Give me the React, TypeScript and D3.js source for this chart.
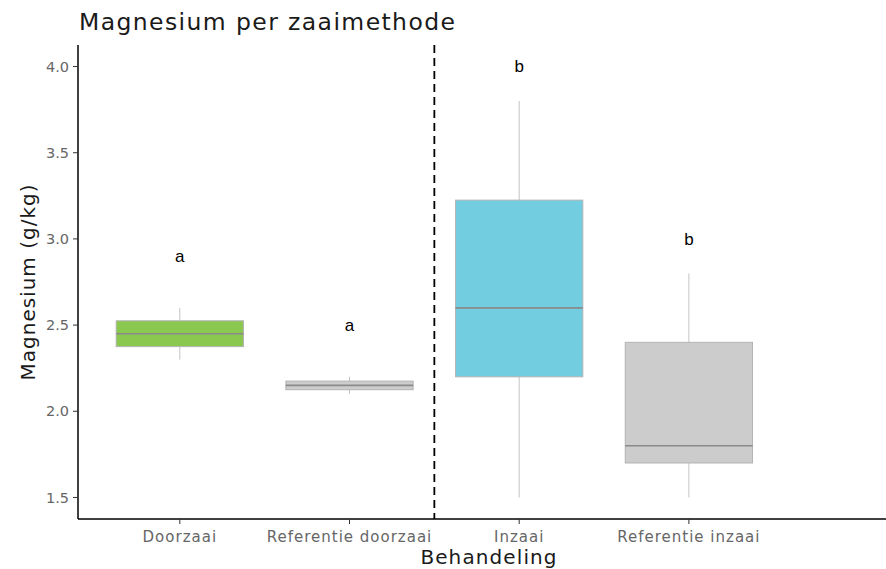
import React from "react";
import * as d3 from "d3";

const categories = ["Doorzaai", "Referentie doorzaai", "Inzaai", "Referentie inzaai"];
const whiskerLow = [2.3, 2.1, 1.5, 1.5];
const q1 = [2.375, 2.125, 2.2, 1.7];
const medians = [2.45, 2.15, 2.6, 1.8];
const q3 = [2.525, 2.175, 3.225, 2.4];
const whiskerHigh = [2.6, 2.2, 3.8, 2.8];
const fills = ["#8BC850", "#CCCCCC", "#72CDE0", "#CCCCCC"];
const letters = ["a", "a", "b", "b"];
const letterY = [2.9, 2.5, 4.0, 3.0];
const yTicks = [1.5, 2.0, 2.5, 3.0, 3.5, 4.0];

const W = 886;
const H = 569;
const FONT = "'DejaVu Sans', sans-serif";

export default function App() {
  const left = 78;
  const right = 901;
  const top = 45;
  const bottom = 519;

  const y = d3.scaleLinear().domain([1.375, 4.125]).range([bottom, top]);
  const x = d3.scaleLinear().domain([0.4, 5.25]).range([left, right]);
  const boxW = x(0.75) - x(0);

  return (
    <div style={{ position: "fixed", left: 0, top: 0 }}>
      <svg width={W} height={H} style={{ display: "block", background: "#fff" }}>
        <text x={79} y={30} fontFamily={FONT} fontSize={23.5} letterSpacing={1.4} fill="#1a1a1a">
          Magnesium per zaaimethode
        </text>

        {categories.map((c, i) => {
          const cx = x(i + 1);
          return (
            <g key={c}>
              <line x1={cx} x2={cx} y1={y(whiskerHigh[i])} y2={y(q3[i])} stroke="#c4c4c4" strokeWidth={1} />
              <line x1={cx} x2={cx} y1={y(q1[i])} y2={y(whiskerLow[i])} stroke="#c4c4c4" strokeWidth={1} />
              <rect
                x={cx - boxW / 2}
                y={y(q3[i])}
                width={boxW}
                height={y(q1[i]) - y(q3[i])}
                fill={fills[i]}
                stroke="#b3b3b3"
                strokeWidth={1}
              />
              <line
                x1={cx - boxW / 2}
                x2={cx + boxW / 2}
                y1={y(medians[i])}
                y2={y(medians[i])}
                stroke="#8a8a8a"
                strokeWidth={1.6}
              />
              <text
                x={cx}
                y={y(letterY[i])}
                dy="0.35em"
                textAnchor="middle"
                fontFamily="'Liberation Sans', Arial, sans-serif"
                fontSize={17}
                fill="#000"
              >
                {letters[i]}
              </text>
            </g>
          );
        })}

        {/* divider between the two sowing methods */}
        <line x1={x(2.5)} x2={x(2.5)} y1={top} y2={bottom} stroke="#000" strokeWidth={1.8} strokeDasharray="8,5" />

        {/* axes */}
        <line x1={left} x2={left} y1={top} y2={bottom} stroke="#000" strokeWidth={1.5} />
        <line x1={left} x2={W} y1={bottom} y2={bottom} stroke="#000" strokeWidth={1.5} />

        {yTicks.map((t) => (
          <g key={t}>
            <line x1={left - 5} x2={left} y1={y(t)} y2={y(t)} stroke="#333" strokeWidth={1} />
            <text
              x={left - 9}
              y={y(t)}
              dy="0.35em"
              textAnchor="end"
              fontFamily={FONT}
              fontSize={14.5}
              fill="#666"
            >
              {d3.format(".1f")(t)}
            </text>
          </g>
        ))}

        {categories.map((c, i) => (
          <g key={c + "-tick"}>
            <line x1={x(i + 1)} x2={x(i + 1)} y1={bottom} y2={bottom + 5} stroke="#333" strokeWidth={1} />
            <text
              x={x(i + 1)}
              y={537}
              dy="0.35em"
              textAnchor="middle"
              fontFamily={FONT}
              fontSize={15}
              letterSpacing={1}
              fill="#666"
            >
              {c}
            </text>
          </g>
        ))}

        <text
          x={489}
          y={557}
          dy="0.35em"
          textAnchor="middle"
          fontFamily={FONT}
          fontSize={20}
          letterSpacing={1.1}
          fill="#1a1a1a"
        >
          Behandeling
        </text>
        <text
          transform={`translate(28,${(top + bottom) / 2}) rotate(-90)`}
          dy="0.35em"
          textAnchor="middle"
          fontFamily={FONT}
          fontSize={20}
          letterSpacing={1}
          fill="#1a1a1a"
        >
          Magnesium (g/kg)
        </text>
      </svg>
    </div>
  );
}
